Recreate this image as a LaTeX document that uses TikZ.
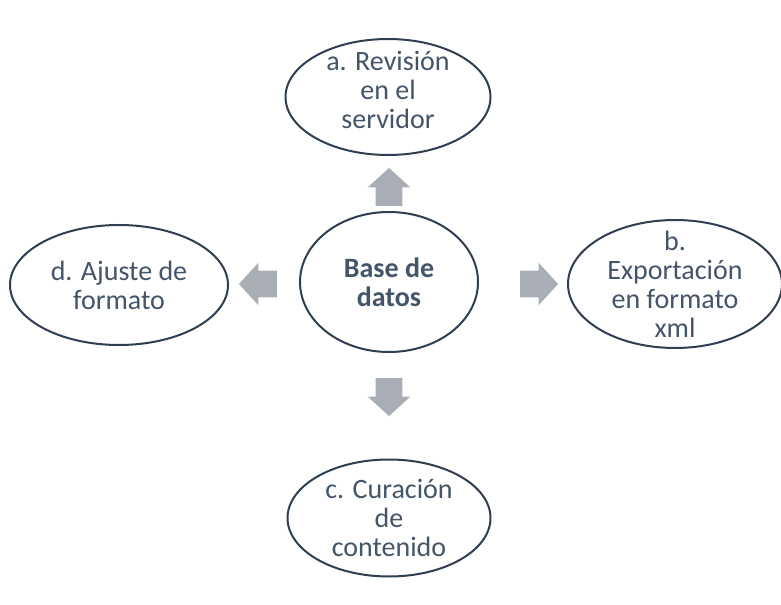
\documentclass[tikz,border=0pt]{standalone}
\usepackage{fontspec}
\setmainfont{Carlito}
\usepackage{xcolor}
\usetikzlibrary{shapes.geometric, shapes.arrows}
\newcommand{\unitsize}{0.75pt}
\definecolor{textslate}{HTML}{44546A}
\definecolor{rimslate}{HTML}{2F3E51}
\definecolor{arrowgray}{HTML}{A9ADB5}

\begin{document}
\begin{tikzpicture}[x=\unitsize, y=-\unitsize]
\useasboundingbox (0,0) rectangle (781,605);
\tikzstyle{stage}=[draw=rimslate,
                   ellipse,
                   fill=white,
                   line width=1.5pt,
                   inner sep=0pt
                   ]
\tikzstyle{stagetext}=[text=textslate,
                       align=center,
                       inner sep=0pt,
                       font=\fontsize{21}{21.75}\selectfont
                       ]
\tikzstyle{flow}=[single arrow,
                  fill=arrowgray,
                  inner xsep=0pt,
                  inner ysep=13*\unitsize,
                  minimum height=38*\unitsize,
                  single arrow head extend=8*\unitsize,
                  single arrow tip angle=95
                  ]
% ellipses
\node[stage, minimum width=178*\unitsize, minimum height=140*\unitsize] (base) at (389,282) {};
\node[stage, minimum width=205*\unitsize, minimum height=116*\unitsize] (revision) at (388,97) {};
\node[stage, minimum width=214*\unitsize, minimum height=128*\unitsize] (export) at (675,284) {};
\node[stage, minimum width=203*\unitsize, minimum height=117*\unitsize] (curation) at (389,518) {};
\node[stage, minimum width=218*\unitsize, minimum height=120*\unitsize] (format) at (119,285) {};
% texts
\node[stagetext, font=\fontsize{21}{21.75}\selectfont\bfseries] (basetext) at (base) {Base de\\datos};
\node[stagetext] (revisiontext) at (388,90) {a. Revisión\\en el\\servidor};
\node[stagetext] (exporttext) at (export) {b.\\Exportación\\en formato\\xml};
\node[stagetext] (curationtext) at (curation) {c. Curación\\de\\contenido};
\node[stagetext] (formattext) at (format) {d. Ajuste de\\formato};
% arrows
\node[flow, rotate=90] (toa) at (389,193) {};
\node[flow] (tob) at (533,284) {};
\node[flow, rotate=-90] (toc) at (389,391) {};
\node[flow, rotate=180] (tod) at (264,284) {};
\end{tikzpicture}
\end{document}
